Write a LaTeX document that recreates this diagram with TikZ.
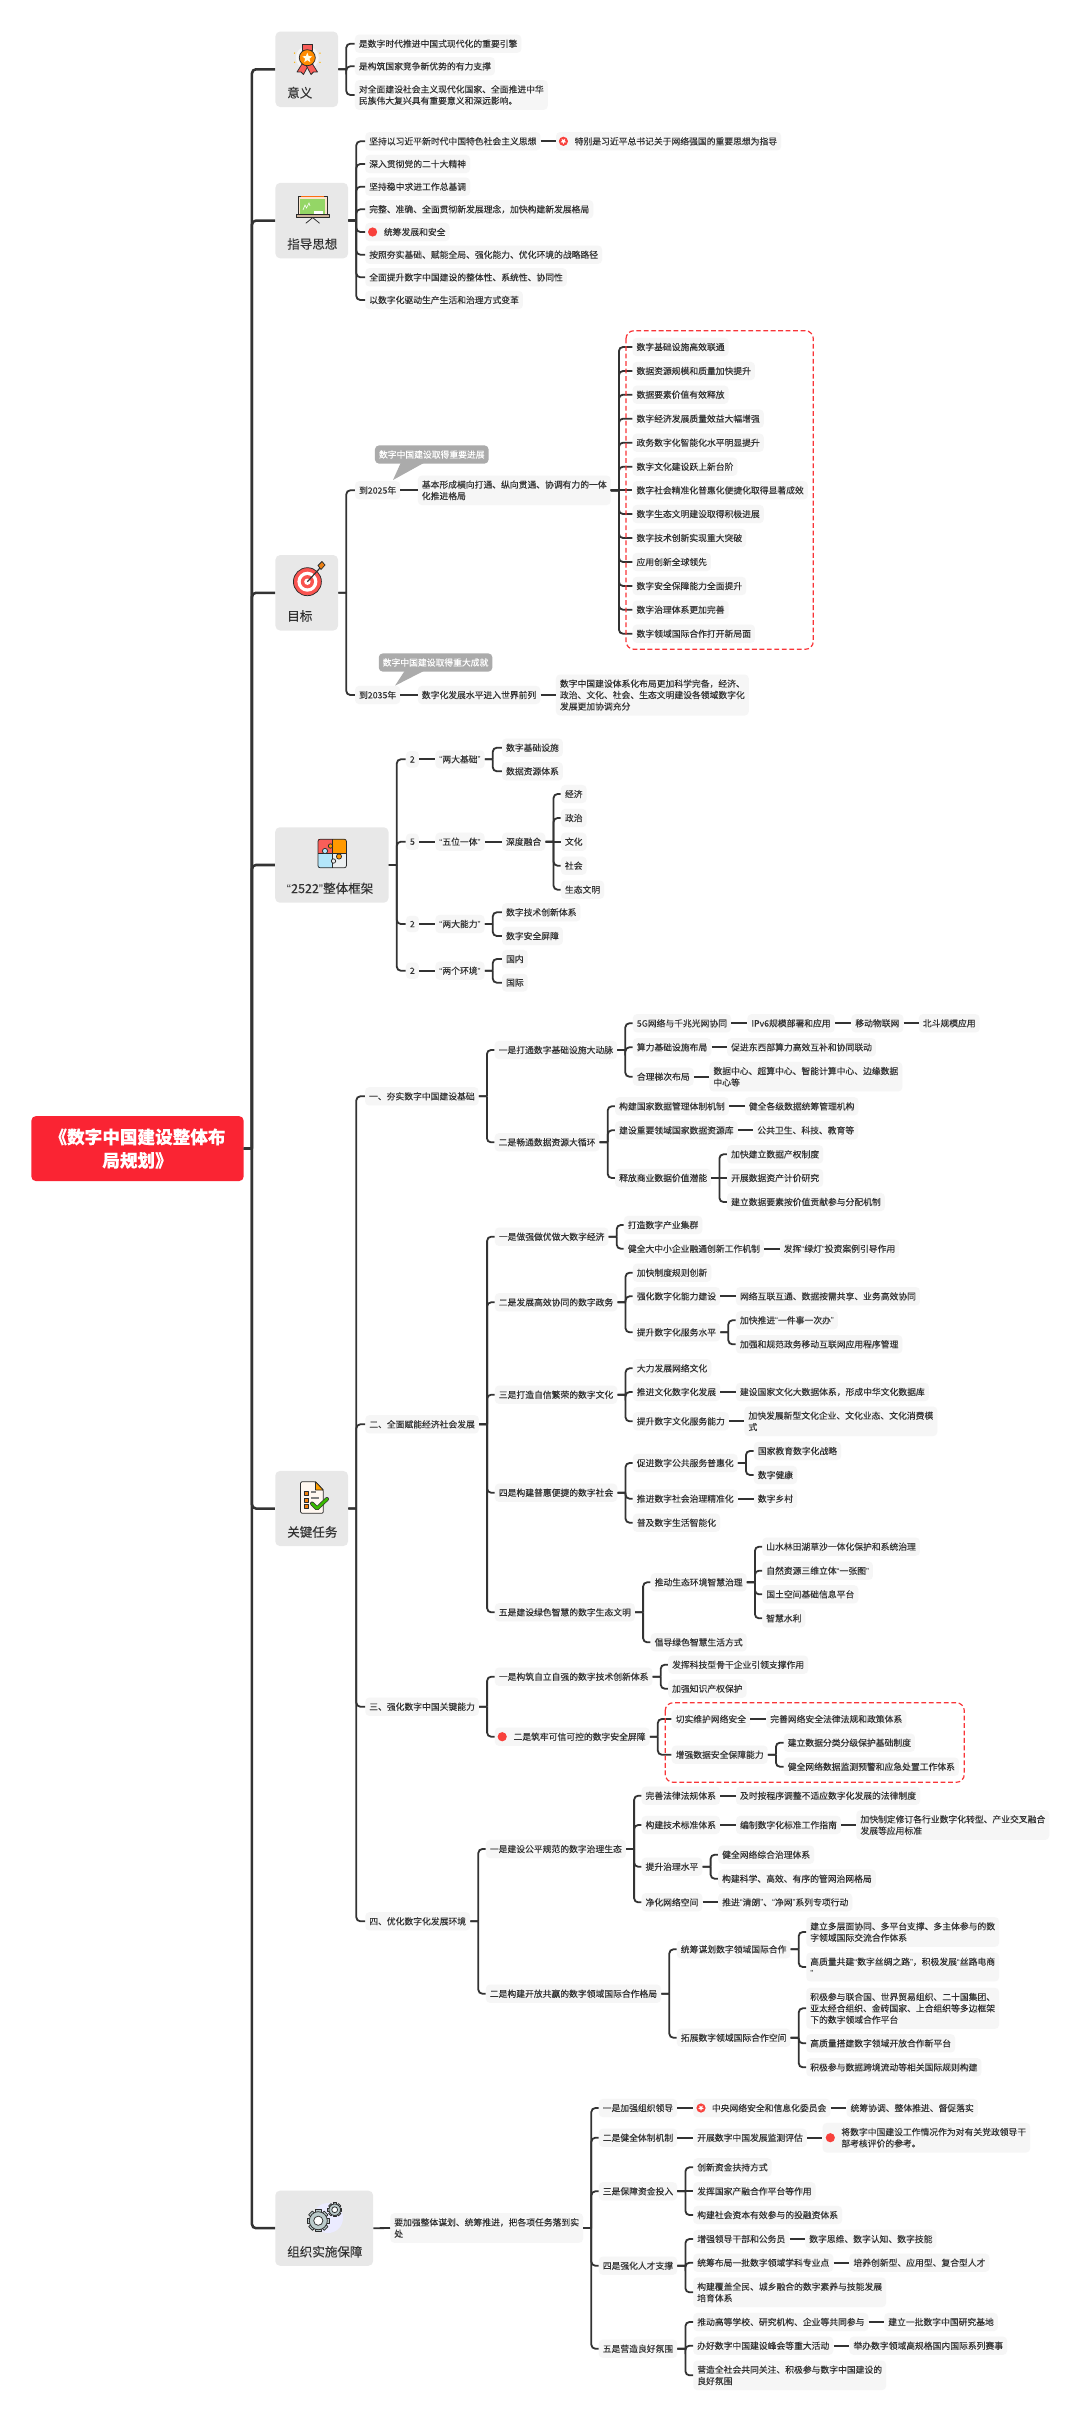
\documentclass[tikz,border=0pt]{standalone}
\usepackage{fontspec}
\setmainfont[FakeBold=0.12]{Noto Sans CJK SC}
\newfontfamily\qf{Liberation Sans}
\newcommand{\qo}{{\qf “}}
\newcommand{\qc}{{\qf ”}}
\usetikzlibrary{calc}
\definecolor{ink}{HTML}{333333}
\definecolor{leafbg}{HTML}{F6F6F6}
\definecolor{catbg}{HTML}{E8E8E8}
\definecolor{rootred}{HTML}{FA2433}
\definecolor{markred}{HTML}{F8413C}
\definecolor{calloutgray}{HTML}{ABABAB}
\definecolor{gearfill}{HTML}{BBCBCB}
\tikzset{
  leaf/.style={anchor=west,fill=leafbg,text=ink,rounded corners=3pt,inner xsep=3pt,inner ysep=3.75pt,align=left,font=\fontsize{6.6}{8.55}\selectfont},
  catbox/.style={fill=catbg,rounded corners=3.5pt,inner sep=0pt},
  catlabel/.style={anchor=west,text=ink,inner sep=0pt,font=\fontsize{9.4}{11}\selectfont},
  rootbox/.style={fill=rootred,text=white,rounded corners=3.5pt,inner sep=0pt,align=center,minimum width=159.3pt,minimum height=48.8pt,font=\fontsize{13.2}{17.6}\bfseries\selectfont},
  callout/.style={anchor=west,fill=calloutgray,text=white,rounded corners=3pt,inner xsep=3pt,inner ysep=3.75pt,font=\fontsize{6.6}{8.55}\selectfont},
  conn/.style={draw=ink,line width=1.35pt,rounded corners=3pt},
  mainconn/.style={draw=ink,line width=1.9pt,rounded corners=3pt},
  redbox/.style={draw=markred!60!rootred,line width=0.9pt,dashed,dash pattern=on 3.6pt off 2pt,rounded corners=6pt},
  iconline/.style={draw=ink!85!black,line width=0.55pt,line join=round}
}
\newcommand{\N}[4]{\node[leaf] (#1) at (#2,#3) {#4};}
% elbow connector: parent east -> trunk -> child west
\newcommand{\lnk}[3][conn]{\draw[#1] let \p1=(#2.east),\p2=(#3.west) in (\p1) -- (\x1+6pt,\y1) (\x1+6pt,\y1) -- (\x1+6pt,\y2) -- (\p2);}
\newcommand{\lns}[2]{\draw[conn] (#1.east) -- (#2.west);}
\newcommand{\ringmark}[2]{\fill[markred] (#1,#2) circle[radius=4.6];
  \fill[white] ($(#1,#2)+(90:3)$) -- ($(#1,#2)+(126:1.3)$) -- ($(#1,#2)+(162:3)$) -- ($(#1,#2)+(198:1.3)$) -- ($(#1,#2)+(234:3)$) -- ($(#1,#2)+(270:1.3)$) -- ($(#1,#2)+(306:3)$) -- ($(#1,#2)+(342:1.3)$) -- ($(#1,#2)+(18:3)$) -- ($(#1,#2)+(54:1.3)$) -- cycle;}
\newcommand{\gear}[3]{% x y outer
  \begin{scope}[shift={(#1,#2)}]
    \foreach \a in {0,45,...,315}{\filldraw[fill=gearfill,iconline,rotate=\a] (#3*0.75,-#3*0.24) rectangle (#3,#3*0.24);}
    \filldraw[fill=gearfill,iconline] (0,0) circle[radius=#3*0.82];
    \filldraw[fill=white,iconline] (0,0) circle[radius=#3*0.42];
  \end{scope}}
\newcommand{\W}{\hspace*{11pt}}
\begin{document}
\begin{tikzpicture}[x=0.75pt,y=-0.75pt]
\path[fill=white,use as bounding box] (0,0) rectangle (1080,2422);

% ---------- root and categories
\node[rootbox] (root) at (137.5,1148.6) {《数字中国建设整体布\\局规划》};
\node[catbox,minimum width=46.9pt,minimum height=56.6pt] (c1) at (306.75,69.3) {};
\node[catlabel] at (287,92.7) {意义};
\node[catbox,minimum width=54.4pt,minimum height=56.6pt] (c2) at (311.75,220.6) {};
\node[catlabel] at (287,244) {指导思想};
\node[catbox,minimum width=46.9pt,minimum height=56.6pt] (c3) at (306.75,592.8) {};
\node[catlabel] at (287,616) {目标};
\node[catbox,minimum width=85pt,minimum height=56.6pt] (c4) at (331.85,865) {};
\node[catlabel] at (286.7,888.3) {\qo 2522\qc 整体框架};
\node[catbox,minimum width=54.6pt,minimum height=56.3pt] (c5) at (311.65,1508.5) {};
\node[catlabel] at (287,1532) {关键任务};
\node[catbox,minimum width=73.4pt,minimum height=56.3pt] (c6) at (324.2,2228.2) {};
\node[catlabel] at (287,2251.7) {组织实施保障};
\foreach \c in {c1,c2,c3,c4,c5,c6}{\lnk[mainconn]{root}{\c}}

% ---------- icons
% medal
\fill[white,opacity=.6] (307.3,57.7) circle[radius=11.5];
\foreach \a in {20,65,115,160,200,340}{\fill[orange!60!yellow] (307.3,57.7)++(\a:13.5) circle[radius=.8];}
\filldraw[fill=markred!85!white,iconline] (302,44.5) rectangle (312.5,50.5);
\filldraw[fill=markred!85!white,iconline] (302,64) -- (297,72) -- (301,72) -- (303.5,74.5) -- (308,66) -- cycle;
\filldraw[fill=markred!85!white,iconline] (312.5,64) -- (317.5,72) -- (313.5,72) -- (311,74.5) -- (306.5,66) -- cycle;
\filldraw[fill=orange!90!yellow,iconline] (307.3,57.7) circle[radius=8];
\fill[white!90!yellow] (307.3,52.7) -- (308.7,56.2) -- (312.3,56.3) -- (309.5,58.7) -- (310.4,62.2) -- (307.3,60.2) -- (304.2,62.2) -- (305.1,58.7) -- (302.3,56.3) -- (305.9,56.2) -- cycle;
% chalkboard
\filldraw[fill=black!7!orange!20!white,iconline] (298,196) rectangle (327,215);
\fill[green!55!black!60!lime!60!white] (300,199) rectangle (325,214);
\fill[markred!30!orange] (301,196) rectangle (324,197.5);
\draw[white,line width=.45pt] (303,210) -- (305,205) -- (306.5,208) -- (309,203) -- (310,206);
\fill[white] (314,211.5) rectangle (323,214);
\filldraw[fill=brown!50!white!80!gray,iconline] (296,214.3) rectangle (329,217.6);
\draw[iconline] (312.7,217.6) -- (305.8,223.3) (312.7,217.6) -- (319.6,223.3);
% target
\filldraw[fill=markred!90!white,iconline] (307.4,581.7) circle[radius=14];
\fill[white] (307.4,581.7) circle[radius=10];
\fill[markred!90!white] (307.4,581.7) circle[radius=6.6];
\fill[white] (307.4,581.7) circle[radius=3.2];
\draw[ink,line width=.9pt] (307.4,581.7) -- (320,568);
\filldraw[fill=orange!70!brown,iconline] (318,565.5) -- (322,561.5) -- (325,565) -- (321,569.5) -- cycle;
% puzzle
\fill[markred!85!white] (318,839.3) rectangle (332.2,853.5);
\fill[orange!80!yellow] (332.2,839.3) rectangle (346.4,853.5);
\fill[cyan!30!white] (318,853.5) rectangle (332.2,867.7);
\fill[cyan!10!gray!15!white] (332.2,853.5) rectangle (346.4,867.7);
\draw[iconline,rounded corners=1.5pt] (318,839.3) rectangle (346.4,867.7);
\draw[iconline] (332.2,839.3) -- (332.2,867.7) (318,853.5) -- (346.4,853.5);
\filldraw[fill=cyan!30!white,iconline] (325,851) circle[radius=2.6];
\filldraw[fill=orange!80!yellow,iconline] (339,856.5) circle[radius=2.6];
\filldraw[fill=orange!80!yellow,iconline] (330.5,846) circle[radius=2.2];
\filldraw[fill=cyan!10!gray!15!white,iconline] (333.5,861) circle[radius=2.2];
% checklist
\filldraw[fill=orange!6!white,iconline,rounded corners=1pt] (300.5,1481.7) -- (315.5,1481.7) -- (323.3,1490) -- (323.3,1513.3) -- (300.5,1513.3) -- cycle;
\filldraw[fill=orange!75!yellow,iconline] (315.5,1481.7) -- (323.3,1490) -- (315.5,1490) -- cycle;
\foreach \y in {1491.7,1498.3,1504.3}{\filldraw[fill=orange!80!brown,iconline] (304.5,\y) rectangle (308.5,\y+4);}
\draw[gray,line width=.8pt] (311,1492) -- (316,1492) (311,1498) -- (319,1498) (311,1505) -- (313.5,1505);
\draw[ink,line width=3pt,line cap=round,line join=round] (312,1503.5) -- (317,1508.5) -- (327,1499);
\draw[green!60!black!70!lime,line width=2pt,line cap=round,line join=round] (312,1503.5) -- (317,1508.5) -- (327,1499);
% gears
\fill[blue!8!white] (328,2218) circle[radius=15];
\gear{318.3}{2220.7}{11}
\gear{334.7}{2209.7}{7}

% ---------- 意义
\N{a1}{354.7}{43.7}{是数字时代推进中国式现代化的重要引擎}
\N{a2}{354.7}{66.3}{是构筑国家竞争新优势的有力支撑}
\N{a3}{354.7}{95}{对全面建设社会主义现代化国家、全面推进中华\\民族伟大复兴具有重要意义和深远影响。}
\lnk{c1}{a1}\lnk{c1}{a2}\lnk{c1}{a3}

% ---------- 指导思想
\N{b1}{365}{141.3}{坚持以习近平新时代中国特色社会主义思想}
\N{b1x}{555.8}{141.3}{\W 特别是习近平总书记关于网络强国的重要思想为指导}
\N{b2}{365}{164}{深入贯彻党的二十大精神}
\N{b3}{365}{186.7}{坚持稳中求进工作总基调}
\N{b4}{365}{209.3}{完整、准确、全面贯彻新发展理念，加快构建新发展格局}
\N{b5}{365}{232}{\W 统筹发展和安全}
\N{b6}{365}{254.7}{按照夯实基础、赋能全局、强化能力、优化环境的战略路径}
\N{b7}{365}{277.3}{全面提升数字中国建设的整体性、系统性、协同性}
\N{b8}{365}{300}{以数字化驱动生产生活和治理方式变革}
\foreach \c in {b1,b2,b3,b4,b5,b6,b7,b8}{\lnk{c2}{\c}}
\lns{b1}{b1x}
\ringmark{563.4}{141.3}
\fill[markred] (372.6,232) circle[radius=4.6];

% ---------- 目标
\node[callout] (t1) at (374.7,454.5) {数字中国建设取得重要进展};
\fill[calloutgray] (400.7,463) -- (423.7,463) -- (393,480) -- cycle;
\N{d1}{354.8}{490.3}{到2025年}
\N{d2}{417.6}{490.3}{基本形成横向打通、纵向贯通、协调有力的一体\\化推进格局}
\N{e1}{632.3}{347}{数字基础设施高效联通}
\N{e2}{632.3}{371}{数据资源规模和质量加快提升}
\N{e3}{632.3}{394.7}{数据要素价值有效释放}
\N{e4}{632.3}{418.7}{数字经济发展质量效益大幅增强}
\N{e5}{632.3}{442.7}{政务数字化智能化水平明显提升}
\N{e6}{632.3}{466.7}{数字文化建设跃上新台阶}
\N{e7}{632.3}{490.3}{数字社会精准化普惠化便捷化取得显著成效}
\N{e8}{632.3}{514}{数字生态文明建设取得积极进展}
\N{e9}{632.3}{538}{数字技术创新实现重大突破}
\N{e10}{632.3}{562}{应用创新全球领先}
\N{e11}{632.3}{586}{数字安全保障能力全面提升}
\N{e12}{632.3}{609.7}{数字治理体系更加完善}
\N{e13}{632.3}{633.7}{数字领域国际合作打开新局面}
\node[callout] (t2) at (378.5,662.5) {数字中国建设取得重大成就};
\fill[calloutgray] (404.6,671) -- (423.7,671) -- (395,685.7) -- cycle;
\N{d3}{354.8}{695}{到2035年}
\N{d4}{417.6}{695}{数字化发展水平进入世界前列}
\N{d5}{555.7}{695}{数字中国建设体系化布局更加科学完备，经济、\\政治、文化、社会、生态文明建设各领域数字化\\发展更加协调充分}
\lnk{c3}{d1}\lnk{c3}{d3}\lns{d1}{d2}\lns{d3}{d4}\lns{d4}{d5}
\foreach \c in {e1,e2,e3,e4,e5,e6,e8,e9,e10,e11,e12,e13}{\lnk{d2}{\c}}
\lns{d2}{e7}
\draw[redbox] (626,330.7) rectangle (813.3,649.3);

% ---------- 2522
\N{f1}{405.7}{759.3}{2}
\N{f2}{405.7}{841.7}{5}
\N{f3}{405.7}{924}{2}
\N{f4}{405.7}{970.7}{2}
\N{g1}{435.2}{759.3}{\qo 两大基础\qc}
\N{g2}{435.2}{841.7}{\qo 五位一体\qc}
\N{g3}{435.2}{924}{\qo 两大能力\qc}
\N{g4}{435.2}{970.7}{\qo 两个环境\qc}
\N{h1}{501.8}{747.7}{数字基础设施}
\N{h2}{501.8}{771.3}{数据资源体系}
\N{h3}{501.8}{841.7}{深度融合}
\N{h4}{501.8}{912.3}{数字技术创新体系}
\N{h5}{501.8}{936}{数字安全屏障}
\N{h6}{501.8}{959}{国内}
\N{h7}{501.8}{982.7}{国际}
\N{i1}{560.7}{794}{经济}
\N{i2}{560.7}{818}{政治}
\N{i3}{560.7}{841.7}{文化}
\N{i4}{560.7}{865.7}{社会}
\N{i5}{560.7}{889.7}{生态文明}
\foreach \c in {f1,f2,f3,f4}{\lnk{c4}{\c}}
\lns{f1}{g1}\lns{f2}{g2}\lns{f3}{g3}\lns{f4}{g4}
\lnk{g1}{h1}\lnk{g1}{h2}\lns{g2}{h3}\lnk{g3}{h4}\lnk{g3}{h5}\lnk{g4}{h6}\lnk{g4}{h7}
\lnk{h3}{i1}\lnk{h3}{i2}\lns{h3}{i3}\lnk{h3}{i4}\lnk{h3}{i5}

% ---------- 关键任务 一
\N{k1}{364.8}{1096.3}{一、夯实数字中国建设基础}
\N{k2}{365}{1424.3}{二、全面赋能经济社会发展}
\N{k3}{365}{1706.7}{三、强化数字中国关键能力}
\N{k4}{365}{1921.3}{四、优化数字化发展环境}
\foreach \c in {k1,k2,k3,k4}{\lnk{c5}{\c}}
\N{l1}{494.4}{1050}{一是打通数字基础设施大动脉}
\N{l2}{494.4}{1142.3}{二是畅通数据资源大循环}
\lnk{k1}{l1}\lnk{k1}{l2}
\N{m1}{632.6}{1023.3}{5G网络与千兆光网协同}
\N{m1a}{747.2}{1023.3}{IPv6规模部署和应用}
\N{m1b}{851.1}{1023.3}{移动物联网}
\N{m1c}{918.6}{1023.3}{北斗规模应用}
\N{m2}{632.6}{1047.3}{算力基础设施布局}
\N{m2a}{726.9}{1047.3}{促进东西部算力高效互补和协同联动}
\N{m3}{632.6}{1076.7}{合理梯次布局}
\N{m3a}{709.2}{1076.7}{数据中心、超算中心、智能计算中心、边缘数据\\中心等}
\lnk{l1}{m1}\lnk{l1}{m2}\lnk{l1}{m3}
\lns{m1}{m1a}\lns{m1a}{m1b}\lns{m1b}{m1c}\lns{m2}{m2a}\lns{m3}{m3a}
\N{n1}{614.9}{1106.3}{构建国家数据管理体制机制}
\N{n1a}{744.6}{1106.3}{健全各级数据统筹管理机构}
\N{n2}{614.9}{1130.3}{建设重要领域国家数据资源库}
\N{n2a}{753.1}{1130.3}{公共卫生、科技、教育等}
\N{n3}{614.9}{1178}{释放商业数据价值潜能}
\N{n3a}{726.9}{1154.3}{加快建立数据产权制度}
\N{n3b}{726.9}{1178}{开展数据资产计价研究}
\N{n3c}{726.9}{1202}{建立数据要素按价值贡献参与分配机制}
\lnk{l2}{n1}\lnk{l2}{n2}\lnk{l2}{n3}
\lns{n1}{n1a}\lns{n2}{n2a}\lnk{n3}{n3a}\lns{n3}{n3b}\lnk{n3}{n3c}

% ---------- 二
\N{o1}{494.6}{1236.7}{一是做强做优做大数字经济}
\N{o2}{494.6}{1302.3}{二是发展高效协同的数字政务}
\N{o3}{494.6}{1394.7}{三是打造自信繁荣的数字文化}
\N{o4}{494.6}{1492.7}{四是构建普惠便捷的数字社会}
\N{o5}{494.6}{1612.3}{五是建设绿色智慧的数字生态文明}
\foreach \c in {o1,o2,o3,o4,o5}{\lnk{k2}{\c}}
\N{p1}{623.6}{1225}{打造数字产业集群}
\N{p2}{623.6}{1248.7}{健全大中小企业融通创新工作机制}
\N{p2a}{779.5}{1248.7}{发挥\qo 绿灯\qc 投资案例引导作用}
\lnk{o1}{p1}\lnk{o1}{p2}\lns{p2}{p2a}
\N{q1}{632.6}{1272.7}{加快制度规则创新}
\N{q2}{632.6}{1296.3}{强化数字化能力建设}
\N{q2a}{735.7}{1296.3}{网络互联互通、数据按需共享、业务高效协同}
\N{q3}{632.6}{1332.3}{提升数字化服务水平}
\N{q3a}{735.7}{1320.3}{加快推进\qo 一件事一次办\qc}
\N{q3b}{735.7}{1344.3}{加强和规范政务移动互联网应用程序管理}
\lnk{o2}{q1}\lnk{o2}{q2}\lnk{o2}{q3}\lns{q2}{q2a}\lnk{q3}{q3a}\lnk{q3}{q3b}
\N{r1}{632.6}{1368.3}{大力发展网络文化}
\N{r2}{632.6}{1392}{推进文化数字化发展}
\N{r2a}{735.7}{1392}{建设国家文化大数据体系，形成中华文化数据库}
\N{r3}{632.6}{1421.3}{提升数字文化服务能力}
\N{r3a}{744.2}{1421.3}{加快发展新型文化企业、文化业态、文化消费模\\式}
\lnk{o3}{r1}\lnk{o3}{r2}\lnk{o3}{r3}\lns{r2}{r2a}\lns{r3}{r3a}
\N{s1}{632.6}{1463}{促进数字公共服务普惠化}
\N{s1a}{753.6}{1451}{国家教育数字化战略}
\N{s1b}{753.6}{1475}{数字健康}
\N{s2}{632.6}{1498.7}{推进数字社会治理精准化}
\N{s2a}{753.6}{1498.7}{数字乡村}
\N{s3}{632.6}{1522.7}{普及数字生活智能化}
\lnk{o4}{s1}\lnk{o4}{s2}\lnk{o4}{s3}\lnk{s1}{s1a}\lnk{s1}{s1b}\lns{s2}{s2a}
\N{u1}{650.4}{1582.3}{推动生态环境智慧治理}
\N{u1a}{762}{1546.7}{山水林田湖草沙一体化保护和系统治理}
\N{u1b}{762}{1570.7}{自然资源三维立体\qo 一张图\qc}
\N{u1c}{762}{1594.3}{国土空间基础信息平台}
\N{u1d}{762}{1618.3}{智慧水利}
\N{u2}{650.4}{1642.3}{倡导绿色智慧生活方式}
\lnk{o5}{u1}\lnk{o5}{u2}
\foreach \c in {u1a,u1b,u1c,u1d}{\lnk{u1}{\c}}

% ---------- 三
\N{v1}{494.6}{1676.7}{一是构筑自立自强的数字技术创新体系}
\N{v1a}{667.9}{1664.7}{发挥科技型骨干企业引领支撑作用}
\N{v1b}{667.9}{1688.7}{加强知识产权保护}
\N{v2}{494.6}{1736.7}{\W 二是筑牢可信可控的数字安全屏障}
\N{w1}{671.4}{1719}{切实维护网络安全}
\N{w1a}{766}{1719}{完善网络安全法律法规和政策体系}
\N{w2}{671.4}{1754.7}{增强数据安全保障能力}
\N{w2a}{783.5}{1742.7}{建立数据分类分级保护基础制度}
\N{w2b}{783.5}{1766.7}{健全网络数据监测预警和应急处置工作体系}
\lnk{k3}{v1}\lnk{k3}{v2}\lnk{v1}{v1a}\lnk{v1}{v1b}\lnk{v2}{w1}\lnk{v2}{w2}
\lns{w1}{w1a}\lnk{w2}{w2a}\lnk{w2}{w2b}
\fill[markred] (502.2,1736.7) circle[radius=4.6];
\draw[redbox] (665.2,1702.7) rectangle (964.3,1782.3);

% ---------- 四
\N{x1}{485.6}{1849}{一是建设公平规范的数字治理生态}
\N{x2}{485.6}{1993.7}{二是构建开放共赢的数字领域国际合作格局}
\lnk{k4}{x1}\lnk{k4}{x2}
\N{y1}{641.3}{1795.7}{完善法律法规体系}
\N{y1a}{735.8}{1795.7}{及时按程序调整不适应数字化发展的法律制度}
\N{y2}{641.3}{1825}{构建技术标准体系}
\N{y2a}{735.8}{1825}{编制数字化标准工作指南}
\N{y2b}{856.2}{1825}{加快制定修订各行业数字化转型、产业交叉融合\\发展等应用标准}
\N{y3}{641.3}{1866.7}{提升治理水平}
\N{y3a}{717.9}{1854.7}{健全网络综合治理体系}
\N{y3b}{717.9}{1878.7}{构建科学、高效、有序的管网治网格局}
\N{y4}{641.3}{1902.3}{净化网络空间}
\N{y4a}{717.9}{1902.3}{推进\qo 清朗\qc 、\qo 净网\qc 系列专项行动}
\foreach \c in {y1,y2,y3,y4}{\lnk{x1}{\c}}
\lns{y1}{y1a}\lns{y2}{y2a}\lns{y2a}{y2b}\lnk{y3}{y3a}\lnk{y3}{y3b}\lns{y4}{y4a}
\N{z1}{676.6}{1949.3}{统筹谋划数字领域国际合作}
\N{z1a}{806}{1932}{建立多层面协同、多平台支撑、多主体参与的数\\字领域国际交流合作体系}
\N{z1b}{806}{1967}{高质量共建\qo 数字丝绸之路\qc ，积极发展\qo 丝路电商\\\qc}
\N{z2}{676.6}{2037.7}{拓展数字领域国际合作空间}
\N{z2a}{806}{2008.3}{积极参与联合国、世界贸易组织、二十国集团、\\亚太经合组织、金砖国家、上合组织等多边框架\\下的数字领域合作平台}
\N{z2b}{806}{2043.3}{高质量搭建数字领域开放合作新平台}
\N{z2c}{806}{2067.3}{积极参与数据跨境流动等相关国际规则构建}
\lnk{x2}{z1}\lnk{x2}{z2}\lnk{z1}{z1a}\lnk{z1}{z1b}\lnk{z2}{z2a}\lnk{z2}{z2b}\lnk{z2}{z2c}

% ---------- 组织实施保障
\N{aa}{390}{2228}{要加强整体谋划、统筹推进，把各项任务落到实\\处}
\lns{c6}{aa}
\N{ab1}{598.5}{2108}{一是加强组织领导}
\N{ab2}{598.5}{2137.7}{二是健全体制机制}
\N{ab3}{598.5}{2191.3}{三是保障资金投入}
\N{ab4}{598.5}{2265.7}{四是强化人才支撑}
\N{ab5}{598.5}{2348.7}{五是营造良好氛围}
\foreach \c in {ab1,ab2,ab3,ab4,ab5}{\lnk{aa}{\c}}
\N{ac1}{693}{2108}{\W 中央网络安全和信息化委员会}
\N{ac1a}{846.3}{2108}{统筹协调、整体推进、督促落实}
\N{ac2}{693}{2137.7}{开展数字中国发展监测评估}
\N{ac2a}{822.4}{2137.7}{\W 将数字中国建设工作情况作为对有关党政领导干\\\W 部考核评价的参考。}
\lns{ab1}{ac1}\lns{ac1}{ac1a}\lns{ab2}{ac2}\lns{ac2}{ac2a}
\ringmark{701}{2108}
\fill[markred] (830.3,2137.7) circle[radius=4.6];
\N{ad1}{693}{2167.3}{创新资金扶持方式}
\N{ad2}{693}{2191.3}{发挥国家产融合作平台等作用}
\N{ad3}{693}{2215}{构建社会资本有效参与的投融资体系}
\lnk{ab3}{ad1}\lns{ab3}{ad2}\lnk{ab3}{ad3}
\N{ae1}{693}{2239}{增强领导干部和公务员}
\N{ae1a}{805}{2239}{数字思维、数字认知、数字技能}
\N{ae2}{693}{2262.7}{统筹布局一批数字领域学科专业点}
\N{ae2a}{849.2}{2262.7}{培养创新型、应用型、复合型人才}
\N{ae3}{693}{2292.3}{构建覆盖全民、城乡融合的数字素养与技能发展\\培育体系}
\lnk{ab4}{ae1}\lnk{ab4}{ae2}\lnk{ab4}{ae3}\lns{ae1}{ae1a}\lns{ae2}{ae2a}
\N{af1}{693}{2322}{推动高等学校、研究机构、企业等共同参与}
\N{af1a}{884}{2322}{建立一批数字中国研究基地}
\N{af2}{693}{2345.7}{办好数字中国建设峰会等重大活动}
\N{af2a}{849.2}{2345.7}{举办数字领域高规格国内国际系列赛事}
\N{af3}{693}{2375.3}{营造全社会共同关注、积极参与数字中国建设的\\良好氛围}
\lnk{ab5}{af1}\lnk{ab5}{af2}\lnk{ab5}{af3}\lns{af1}{af1a}\lns{af2}{af2a}
\end{tikzpicture}
\end{document}
